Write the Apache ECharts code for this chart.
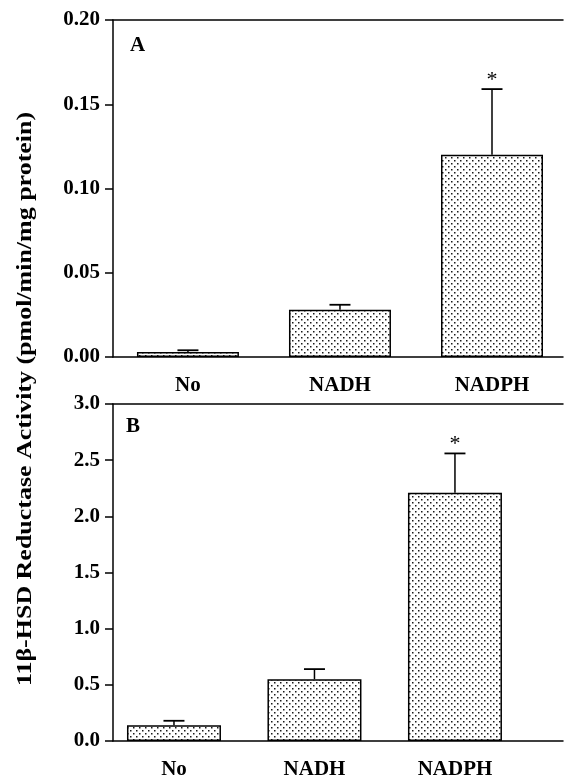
<!DOCTYPE html>
<html>
<head>
<meta charset="utf-8">
<script src="https://cdn.jsdelivr.net/npm/echarts@6/dist/echarts.min.js"></script>
<style>
html,body{margin:0;padding:0;background:#fff;}
#chart{width:564px;height:780px;}
</style>
</head>
<body>
<div id="chart"></div>
<script>
// ---- data ----
const categories = ['No', 'NADH', 'NADPH'];
const catPositions = [1, 2, 3];
const valuesA = [0.003, 0.028, 0.120];
const errorsA = [0.001, 0.003, 0.039];
const valuesB = [0.14, 0.55, 2.21];
const errorsB = [0.04, 0.09, 0.35];
const significance = ['', '', '*'];
const yTicksA = [0, 0.05, 0.10, 0.15, 0.20];
const yTicksB = [0, 0.5, 1.0, 1.5, 2.0, 2.5, 3.0];
const panelLabels = ['A', 'B'];
const yAxisTitle = '11\u03b2-HSD Reductase Activity (pmol/min/mg protein)';

// ---- styles ----
const FONT = '"Liberation Serif", "DejaVu Serif", serif';
const pat = document.createElement('canvas');
pat.width = 6; pat.height = 6;
const pctx = pat.getContext('2d');
pctx.fillStyle = '#ffffff'; pctx.fillRect(0, 0, 6, 6);
pctx.fillStyle = '#1a1a1a';
pctx.fillRect(1, 1, 1.5, 1.5);
pctx.fillRect(4, 4, 1.5, 1.5);
const stipple = { image: pat, repeat: 'repeat' };

const chart = echarts.init(document.getElementById('chart'), null, { renderer: 'canvas' });

function xAxes(gi, min, max) {
  return [{
    type: 'value', gridIndex: gi, min: min, max: max, position: 'bottom',
    axisLine: { show: true, onZero: false, lineStyle: { color: '#000', width: 1.5 } },
    axisTick: { show: false }, splitLine: { show: false },
    axisLabel: {
      customValues: catPositions,
      formatter: v => categories[Math.round(v) - 1] || '',
      color: '#000', fontFamily: FONT, fontWeight: 'bold', fontSize: 21, margin: 18
    }
  }, {
    type: 'value', gridIndex: gi, min: min, max: max, position: 'top',
    axisLine: { show: true, onZero: false, lineStyle: { color: '#000', width: 1.5 } },
    axisTick: { show: false }, splitLine: { show: false }, axisLabel: { show: false }
  }];
}
function yAxis(gi, ticks, dec) {
  return {
    type: 'value', gridIndex: gi, min: ticks[0], max: ticks[ticks.length - 1],
    interval: ticks[1] - ticks[0],
    axisLine: { show: true, lineStyle: { color: '#000', width: 1.5 } },
    axisTick: { show: true, length: 8, lineStyle: { color: '#000', width: 1.5 } },
    splitLine: { show: false },
    axisLabel: {
      formatter: v => v.toFixed(dec),
      color: '#000', fontFamily: FONT, fontWeight: 'bold', fontSize: 21, margin: 13
    }
  };
}
function errSeries(xi, yi, vals, errs) {
  return {
    type: 'custom', xAxisIndex: xi, yAxisIndex: yi, z: 5,
    data: catPositions.map((p, i) => [p, vals[i], errs[i]]),
    renderItem: function (params, api) {
      const x = api.value(0), y = api.value(1), e = api.value(2);
      const p0 = api.coord([x, y]);
      const p1 = api.coord([x, y + e]);
      const children = [
        { type: 'line', shape: { x1: p0[0], y1: p0[1], x2: p1[0], y2: p1[1] }, style: { stroke: '#000', lineWidth: 1.5 } },
        { type: 'line', shape: { x1: p1[0] - 10.5, y1: p1[1], x2: p1[0] + 10.5, y2: p1[1] }, style: { stroke: '#000', lineWidth: 1.8 } }
      ];
      const s = significance[params.dataIndex];
      if (s) {
        children.push({ type: 'text', x: p1[0], y: p1[1] - 9, style: { text: s, fill: '#000', font: '22px ' + FONT, align: 'center', verticalAlign: 'middle' } });
      }
      return { type: 'group', children: children };
    }
  };
}

const option = {
  backgroundColor: '#fff',
  animation: false,
  grid: [
    { left: 113, top: 20, width: 450, height: 337 },
    { left: 113, top: 404, width: 450, height: 342 }
  ],
  xAxis: [].concat(xAxes(0, 0.507, 3.467), xAxes(1, 0.566, 3.769)),
  yAxis: [yAxis(0, yTicksA, 2), yAxis(1, yTicksB, 1)],
  series: [
    {
      type: 'bar', xAxisIndex: 0, yAxisIndex: 0, barWidth: 102,
      data: catPositions.map((p, i) => [p, valuesA[i]]),
      itemStyle: { color: stipple, borderColor: '#000', borderWidth: 1.5 }
    },
    errSeries(0, 0, valuesA, errorsA),
    {
      type: 'bar', xAxisIndex: 2, yAxisIndex: 1, barWidth: 94,
      data: catPositions.map((p, i) => [p, valuesB[i]]),
      itemStyle: { color: stipple, borderColor: '#000', borderWidth: 1.5 }
    },
    errSeries(2, 1, valuesB, errorsB)
  ],
  graphic: [
    { type: 'text', left: 130, top: 35, style: { text: panelLabels[0], fill: '#000', font: 'bold 21px ' + FONT } },
    { type: 'text', left: 126, top: 416, style: { text: panelLabels[1], fill: '#000', font: 'bold 21px ' + FONT } },
    { type: 'text', x: 25, y: 399, rotation: Math.PI / 2, scaleX: 1.18,
      style: { text: yAxisTitle, fill: '#000', font: 'bold 22px ' + FONT, align: 'center', verticalAlign: 'middle' } }
  ]
};
chart.setOption(option);
</script>
</body>
</html>
